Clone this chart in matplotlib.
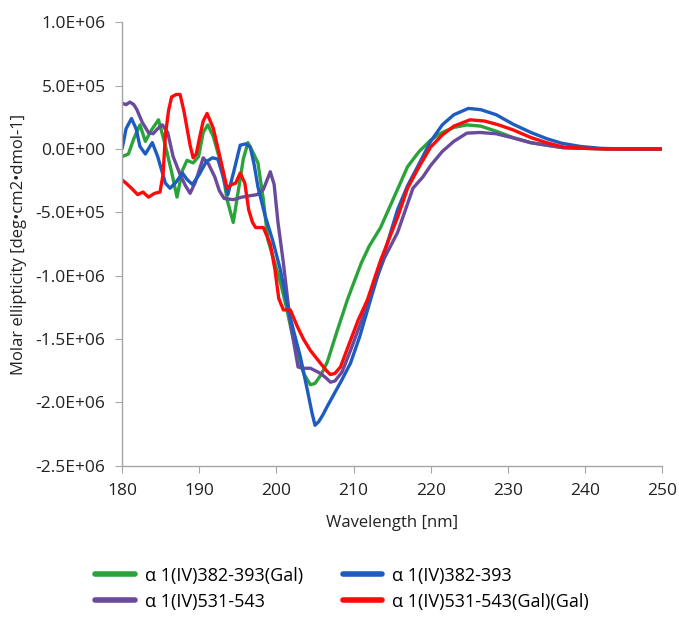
import numpy as np
import matplotlib
matplotlib.use("Agg")
from matplotlib import pyplot as plt

# values are in units of 1e5 deg cm2 dmol-1
SCALE = 1e5

green_nm = [180, 180.8, 181.5, 182.3, 183.0, 183.8, 184.7, 185.5, 186.4, 187.1, 187.8, 188.4, 189.2, 189.9,
            190.5, 191.1, 191.8, 192.5, 193.0, 193.6, 194.4, 195.0, 195.7, 196.3, 196.9, 197.6, 198.3, 198.9,
            199.8, 200.5, 201.3, 202.0, 202.8, 203.6, 204.4, 205.0, 205.8, 206.6, 207.9, 209.2, 210.0, 211.0,
            212.0, 213.5, 215.4, 217.0, 218.5, 220.0, 221.5, 223.0, 224.7, 226.5, 228.5, 230.7, 233.0, 235.0,
            237.2, 240, 243, 246, 250]
green_val = [-0.6, -0.4, 0.8, 1.9, 0.6, 1.5, 2.3, 0.5, -1.8, -3.8, -1.7, -0.9, -1.1, -0.6,
             1.3, 1.9, 1.0, -0.5, -1.7, -4.0, -5.8, -3.5, -0.8, 0.5, -0.2, -1.1, -4.0, -7.2,
             -9.0, -10.5, -12.5, -14.5, -16.5, -17.8, -18.6, -18.5, -17.8, -16.8, -14.3, -11.9, -10.6, -9.0,
             -7.7, -6.2, -3.6, -1.4, -0.2, 0.7, 1.3, 1.7, 1.9, 1.8, 1.4, 0.9, 0.5, 0.3,
             0.1, 0.05, 0.0, 0.0, 0.0]

blue_nm = [180, 180.5, 181.2, 181.8, 182.3, 183.0, 183.9, 184.6, 185.6, 186.2, 187.0, 187.8, 188.4, 189.1,
           190.0, 190.9, 191.7, 192.4, 193.0, 193.7, 194.5, 195.3, 196.0, 196.6, 197.1, 197.6, 198.5, 199.5,
           200.5, 201.3, 202.2, 203.1, 204.0, 204.6, 205.0, 205.5, 206.0, 206.6, 207.5, 208.5, 209.6, 210.8,
           212.2, 214.0, 215.7, 217.0, 218.3, 220.0, 221.5, 223.0, 224.9, 226.5, 228.5, 230.7, 233.0, 235.1,
           237.0, 239.4, 242, 245, 250]
blue_val = [0.05, 1.6, 2.4, 1.6, 0.2, -0.4, 0.5, -0.6, -2.7, -3.1, -2.6, -1.9, -2.4, -2.8,
            -2.0, -1.0, -0.7, -0.8, -2.0, -3.6, -1.7, 0.3, 0.4, 0.15, -1.2, -3.0, -5.2, -7.2,
            -9.5, -12.0, -14.3, -16.4, -19.0, -20.8, -21.8, -21.5, -21.0, -20.3, -19.3, -18.2, -16.9, -14.8,
            -11.9, -8.2, -4.8, -2.9, -1.4, 0.6, 1.9, 2.7, 3.2, 3.1, 2.7, 1.95, 1.3, 0.8,
            0.45, 0.2, 0.05, 0.0, 0.0]

purple_nm = [180, 180.5, 181.0, 181.5, 181.9, 182.6, 183.4, 184.0, 184.6, 185.2, 185.9, 186.6, 187.5, 188.2,
             188.8, 189.5, 190.5, 191.2, 192.0, 192.6, 193.2, 194.4, 195.5, 196.5, 197.5, 198.3, 199.2, 199.7,
             200.2, 200.9, 201.8, 202.8, 203.5, 204.4, 205.7, 206.5, 207.0, 207.6, 208.5, 209.6, 211.0, 212.5,
             214.0, 215.7, 217.7, 219.0, 220.0, 221.5, 223.0, 224.7, 226.4, 228.5, 230.5, 232.9, 235.0, 237.2,
             240, 243, 246, 250]
purple_val = [3.6, 3.5, 3.7, 3.5, 3.1, 2.1, 1.3, 1.2, 1.6, 1.9, 1.3, -0.6, -2.0, -2.9,
              -3.5, -2.6, -0.7, -1.2, -2.2, -3.3, -3.9, -4.0, -3.8, -3.7, -3.6, -3.2, -1.8, -2.8,
              -5.8, -9.0, -13.7, -17.2, -17.3, -17.3, -17.7, -18.1, -18.4, -18.3, -17.6, -15.9, -13.6, -11.0,
              -8.6, -6.6, -3.1, -2.2, -1.3, -0.2, 0.6, 1.25, 1.3, 1.2, 0.9, 0.5, 0.3, 0.1,
              0.05, 0.0, 0.0, 0.0]

red_nm = [180, 180.5, 181.2, 182.0, 182.7, 183.4, 184.2, 184.9, 185.3, 185.6, 186.0, 186.4, 187.0, 187.5,
          188.0, 188.4, 188.8, 189.2, 189.6, 190.0, 190.5, 191.0, 191.8, 192.7, 193.6, 194.2, 194.7, 195.3,
          195.9, 196.4, 196.9, 197.3, 198.3, 199.2, 199.8, 200.3, 200.9, 201.8, 202.7, 203.5, 204.4, 205.7,
          206.5, 207.0, 207.6, 208.3, 209.6, 210.6, 211.8, 213.5, 215.7, 217.0, 218.5, 220.0, 221.5, 223.0,
          225.1, 227.0, 228.8, 230.7, 233.0, 235.0, 237.2, 240, 243, 246, 250]
red_val = [-2.45, -2.7, -3.1, -3.6, -3.4, -3.8, -3.5, -3.4, -2.0, 1.1, 3.0, 4.1, 4.3, 4.3,
           3.0, 1.65, 0.3, -0.7, -0.4, 0.8, 2.2, 2.8, 1.65, -0.7, -3.1, -2.8, -2.7, -1.9,
           -2.7, -4.8, -5.8, -6.2, -6.2, -7.5, -9.5, -11.8, -12.7, -12.7, -14.0, -15.0, -15.9, -16.9,
           -17.5, -17.8, -17.7, -17.2, -15.1, -13.5, -11.9, -8.8, -5.4, -3.1, -1.4, 0.15, 1.1, 1.8,
           2.3, 2.2, 1.9, 1.5, 0.9, 0.5, 0.15, 0.05, 0.0, 0.0, 0.0]

series = [
    ("\u03b1 1(IV)382-393(Gal)", green_nm, green_val, "#2AA33A"),
    ("\u03b1 1(IV)531-543", purple_nm, purple_val, "#6A4A9C"),
    ("\u03b1 1(IV)382-393", blue_nm, blue_val, "#1F5CBF"),
    ("\u03b1 1(IV)531-543(Gal)(Gal)", red_nm, red_val, "#FF0A0A"),
]

plt.rcParams['font.family'] = ['Open Sans', 'DejaVu Sans']

fig = plt.figure(figsize=(6.79, 6.17), dpi=100)
ax = fig.add_axes([0.18, 0.245, 0.795, 0.719])

handles = []
for label, nm, val, color in series:
    line, = ax.plot(nm, np.array(val) * SCALE, color=color, lw=2.4, label=label,
                    solid_joinstyle='round', solid_capstyle='round')
    handles.append(line)

ax.set_xlim(180, 250)
ax.set_ylim(-2.5e6, 1.0e6)
ax.set_xticks(np.arange(180, 251, 10))
yt = np.arange(-2.5e6, 1.0e6 + 1, 5e5)
ax.set_yticks(yt)
ax.set_yticklabels(["%.1E" % v for v in yt])

for side in ['top', 'right']:
    ax.spines[side].set_visible(False)
for side in ['left', 'bottom']:
    ax.spines[side].set_color('#A6A6A6')
    ax.spines[side].set_linewidth(1.0)
ax.tick_params(axis='both', direction='out', length=5, color='#A6A6A6', labelsize=12.5, labelcolor='#222222')
ax.tick_params(axis='y', pad=7)
ax.tick_params(axis='x', pad=7)

ax.set_xlabel("Wavelength [nm]", fontsize=12, color='#222222', labelpad=12)
ax.set_ylabel("Molar ellipticity [deg\u2022cm2\u2022dmol-1]", fontsize=12, color='#222222', labelpad=6)

leg = fig.legend(handles=handles, loc='upper left', bbox_to_anchor=(0.116, 0.108), ncol=2, frameon=False,
                 fontsize=13, handlelength=2.2, handletextpad=0.55, columnspacing=2.2, labelspacing=0.45)
for h in leg.legend_handles:
    h.set_linewidth(4)

fig.savefig("out.png", dpi=100)
